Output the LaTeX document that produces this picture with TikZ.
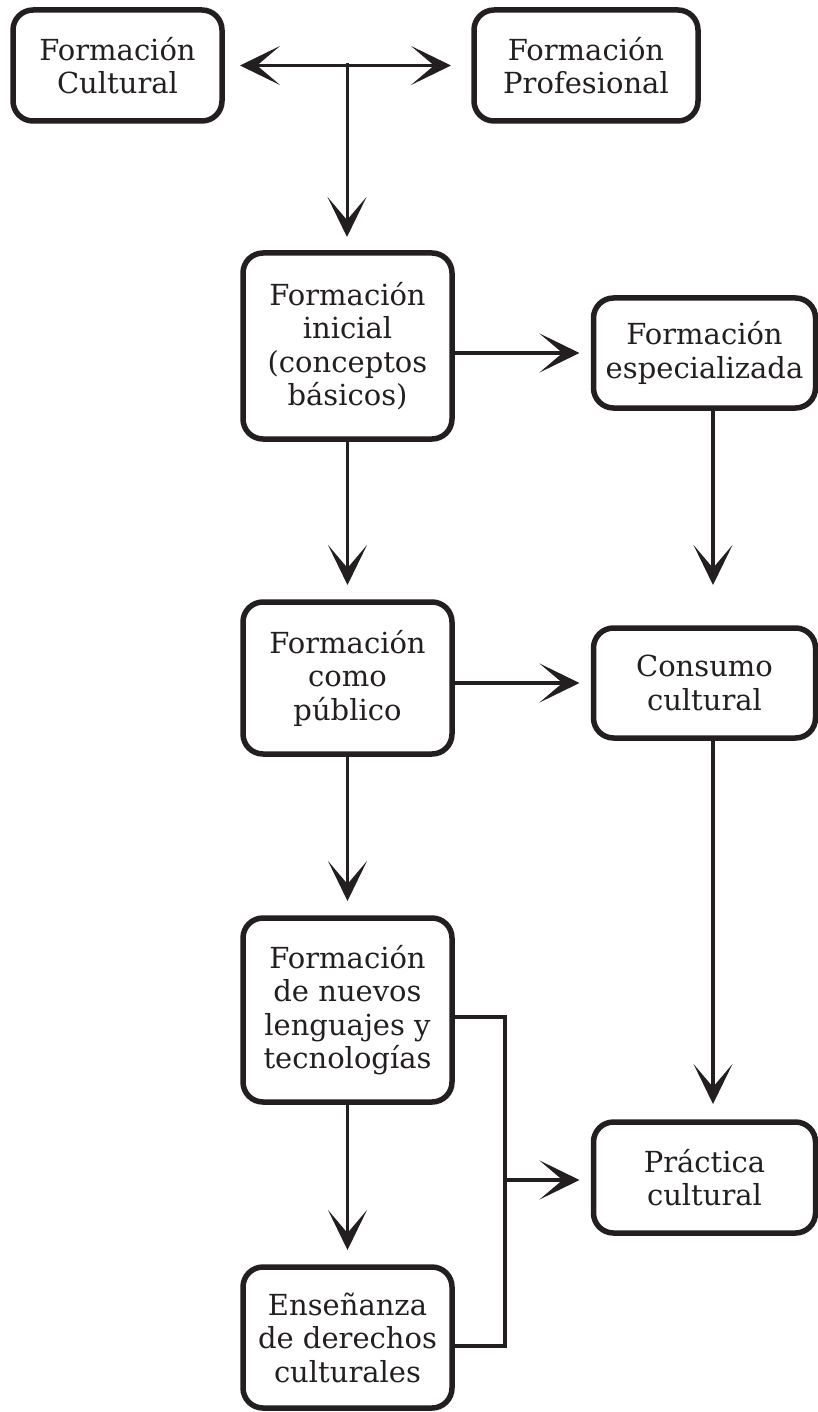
\documentclass[tikz,border=0pt]{standalone}
\usepackage{fontspec}
\setmainfont{DejaVu Serif}
\usetikzlibrary{arrows.meta}
\definecolor{ink}{HTML}{231F20}
\begin{document}
\begin{tikzpicture}[x=1pt,y=-1pt,
  >={Stealth[length=40pt,width=39pt,inset=23pt]},
  box/.style={draw=ink, line width=5.5pt, rounded corners=20pt, minimum width=209pt,
    inner sep=0pt, outer sep=0pt, align=center, font=\fontsize{29}{33.5}\selectfont, text=ink},
  conn/.style={draw=ink, line width=3.5pt},
  arr/.style={conn, ->},
]
\useasboundingbox (0,0) rectangle (818,1412);
\node[box, minimum height=111pt] (cult) at (117.5,65.5) {Formación\\Cultural};
\node[box, minimum width=224pt, minimum height=111pt] (prof) at (586,65.5) {Formación\\Profesional};
\node[box, minimum height=186pt] (ini) at (347.5,346) {Formación\\inicial\\(conceptos\\básicos)};
\node[box, minimum width=222pt, minimum height=110pt] (esp) at (704.5,353) {Formación\\especializada};
\node[box, minimum height=152pt] (pub) at (347.5,678) {Formación\\como\\público};
\node[box, minimum width=222pt, minimum height=110pt] (cons) at (704.5,683) {Consumo\\cultural};
\node[box, minimum height=184pt] (tec) at (347.5,1010) {Formación\\de nuevos\\lenguajes y\\tecnologías};
\node[box, minimum width=222pt, minimum height=111pt] (prac) at (704.5,1177.5) {Práctica\\cultural};
\node[box, minimum height=141pt] (ens) at (347.5,1337.5) {Enseñanza\\de derechos\\culturales};

\coordinate (j) at (347,63);
\coordinate (bt) at (505,1017);
\coordinate (bb) at (505,1346);
\coordinate (bm) at (505,1180);

\draw[conn, <->, shorten <=18pt, shorten >=23pt] (cult.east) -- (prof.west);
\draw[arr, line width=3pt, shorten >=16pt] (j) -- (j |- ini.north);
\draw[arr, shorten >=14pt] (ini.east |- esp.west) -- (esp.west);
\draw[arr, shorten >=17pt] (ini.south) -- (pub.north);
\draw[arr, shorten >=14pt] (pub.east |- cons.west) -- (cons.west);
\draw[arr, shorten >=43pt] ([xshift=8.5pt]esp.south) -- ([xshift=8.5pt]cons.north);
\draw[arr, shorten >=17pt] (pub.south) -- (tec.north);
\draw[arr, shorten >=18pt] ([xshift=8.5pt]cons.south) -- ([xshift=8.5pt]prac.north);
\draw[arr, shorten >=17pt] (tec.south) -- (ens.north);
\draw[conn] (tec.east |- bt) -- (bt) -- (bb) -- (ens.east |- bb);
\draw[arr, shorten >=14pt] (bm) -- (prac.west |- bm);
\end{tikzpicture}
\end{document}
